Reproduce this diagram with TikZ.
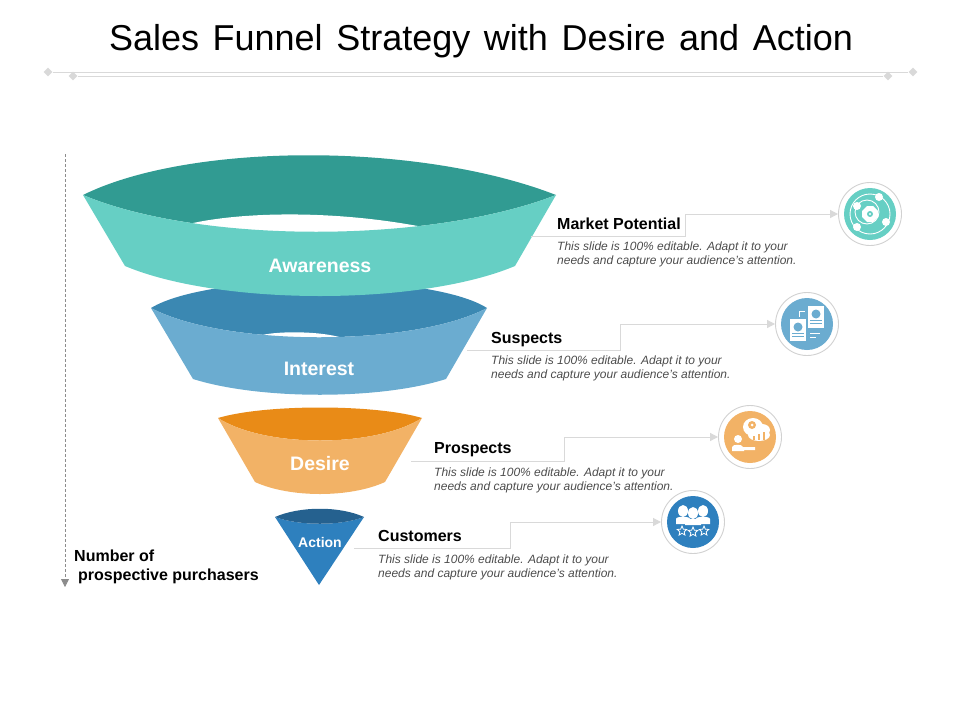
\documentclass[tikz,border=0pt]{standalone}
\usepackage{fontspec}
\setmainfont{Liberation Sans}
\usepackage{tikz}
\usetikzlibrary{arrows.meta,positioning,shapes.geometric}
\definecolor{tealdark}{HTML}{319B92}
\definecolor{teallight}{HTML}{66CFC4}
\definecolor{bluedark}{HTML}{3B88B2}
\definecolor{bluelight}{HTML}{6BACD0}
\definecolor{orangedark}{HTML}{E98B17}
\definecolor{orangelight}{HTML}{F2B266}
\definecolor{navydark}{HTML}{25618F}
\definecolor{navylight}{HTML}{2E80BE}
\definecolor{rulegrey}{HTML}{D9D9D9}
\tikzset{
	stagetext/.style = {text=white, font=\bfseries\fontsize{19.5}{22}\selectfont},
	headtext/.style = {anchor=base west, inner sep=0pt, font=\bfseries\fontsize{16}{18}\selectfont},
	bodytext/.style = {anchor=north west, inner sep=0pt, align=left, text=black!70, font=\itshape\fontsize{12}{14}\selectfont},
	link/.style = {draw=rulegrey, line width=1pt},
	arrowlink/.style = {link, -{Triangle[length=8pt,width=8pt]}},
	iconring/.style = {draw=black!18, circle, fill=white, line width=0.9pt, minimum size=63pt, inner sep=0pt},
	titleend/.style = {draw=none, fill=rulegrey, diamond, minimum size=9pt, inner sep=0pt},
	glyph/.style = {fill=white, draw=none},
	glyphline/.style = {draw=white, line width=0.9pt},
	ratingstar/.style = {star, star points=5, star point ratio=2.2, draw=white, line width=0.8pt, minimum size=10pt, inner sep=0pt},
}
\begin{document}
\begin{tikzpicture}[x=1pt,y=-1pt]
	\useasboundingbox (0,0) rectangle (960,720);
	\node (title) at (481,50) [anchor=base, font=\fontsize{36}{40}\selectfont, inner sep=0pt] {Sales\hspace{3.6pt} Funnel\hspace{3.6pt} Strategy\hspace{3.6pt} with\hspace{3.6pt} Desire\hspace{3.6pt} and\hspace{3.6pt} Action};
	\node (ruleaL) at (48,72) [titleend] {};
	\node (ruleaR) at (913,72) [titleend] {};
	\node (rulebL) at (73,76) [titleend] {};
	\node (rulebR) at (888,76) [titleend] {};
	\path [link] (ruleaL) -- (ruleaR);
	\path [link] (rulebL) -- (rulebR);
	% axis
	\coordinate (axistop) at (65,154);
	\coordinate (axisend) at (65,587);
	\path [draw=black!45, densely dashed, line width=0.8pt, -{Triangle[length=8pt,width=8pt]}] (axistop) -- (axisend);
	\node (axislabel) at (74,567) [anchor=west, inner sep=0pt, align=left, font=\bfseries\fontsize{16}{19}\selectfont] {Number of \\ \hspace{4pt}prospective purchasers};
	% interest
	\path [fill=bluedark] (151,308) .. controls (210,272) and (430,272) .. (487,308) .. controls (413,347) and (225,347) .. cycle;
	\path [fill=white] (262,335) .. controls (280,331) and (320,331) .. (343,338) -- (330,345) -- (270,345) -- cycle;
	\path [fill=bluelight] (151,308) .. controls (225,347) and (413,347) .. (487,308) -- (446,379) .. controls (380,400) and (260,400) .. (193,379) -- cycle;
	% awareness
	\path [fill=tealdark] (83,195) .. controls (190,142) and (420,142) .. (556,195) .. controls (430,244) and (200,244) .. cycle;
	\path [fill=white] (193,223) .. controls (250,211) and (340,211) .. (423,227) -- (380,240) -- (230,240) -- cycle;
	\path [fill=teallight] (83,195) .. controls (200,244) and (430,244) .. (556,195) -- (515,266) .. controls (420,306) and (220,306) .. (125,266) -- cycle;
	% desire
	\path [fill=orangedark] (218,418) .. controls (265,404) and (375,404) .. (422,418) .. controls (375,448) and (265,448) .. cycle;
	\path [fill=orangelight] (218,418) .. controls (265,448) and (375,448) .. (422,418) -- (385,482) .. controls (350,498) and (290,498) .. (255,482) -- cycle;
	% action
	\path [fill=navylight] (275,517) .. controls (300,526) and (340,526) .. (364,517) -- (319,585) -- cycle;
	\path [fill=navydark] (275,517) .. controls (300,506) and (340,506) .. (364,517) .. controls (340,526) and (300,526) .. cycle;
	\node (awareness) at (320,266) [stagetext] {Awareness};
	\node (interest) at (319,369) [stagetext] {Interest};
	\node (desire) at (320,464) [stagetext] {Desire};
	\node (action) at (320,542) [stagetext, font=\bfseries\fontsize{14}{15}\selectfont] {Action};
	% market potential
	\node (marketicon) at (870,214) [iconring] {};
	\node (markethead) at (557,229) [headtext] {Market Potential};
	\node (marketbody) at (557,242) [bodytext] {This slide is 100\% editable. Adapt it to your \\ needs and capture your audience's attention.};
	\coordinate (marketfree) at (531,236);
	\coordinate (marketbend) at (685,236);
	\path [arrowlink] (marketfree) -- (marketbend) |- (marketicon);
	\path [fill=teallight] (870,214) circle (26);
	\begin{scope}[shift={(870,214)}]
		\path [glyphline] (0,0) circle (20);
		\path [glyphline] (-3,-2) circle (12);
		\path [glyph] (-3,-8) -- (3,-8) -- (8,-3) -- (8,3) -- (3,8) -- (-3,8) -- (-8,3) -- (-8,-3) -- cycle;
		\path [fill=teallight] (0,0) circle (3);
		\path [glyph] (0,0) circle (1.2);
		\path [glyph] (9,-17) circle (4);
		\path [glyph] (16,8) circle (4);
		\path [glyph] (-13,13) circle (4);
		\path [glyph] (-13,-8) circle (4);
	\end{scope}
	% suspects
	\node (suspecticon) at (807,324) [iconring] {};
	\node (suspecthead) at (491,343) [headtext] {Suspects};
	\node (suspectbody) at (491,356) [bodytext] {This slide is 100\% editable. Adapt it to your \\ needs and capture your audience's attention.};
	\coordinate (suspectfree) at (467,350);
	\coordinate (suspectbend) at (620,350);
	\path [arrowlink] (suspectfree) -- (suspectbend) |- (suspecticon);
	\path [fill=bluelight] (807,324) circle (26);
	\begin{scope}[shift={(807,324)}]
		\path [glyph] (1,-18) rectangle (17,4);
		\path [glyph] (-17,-5) rectangle (-1,17);
		\path [fill=bluelight] (9,-10) circle (4.5);
		\path [fill=bluelight] (-9,3) circle (4.5);
		\path [fill=bluelight] (3,-4) rectangle (15,-3);
		\path [fill=bluelight] (3,-1) rectangle (15,0);
		\path [fill=bluelight] (-15,9) rectangle (-3,10);
		\path [fill=bluelight] (-15,12) rectangle (-3,13);
		\path [glyphline] (-8,-7) -- (-8,-13) -- (-2,-13);
		\path [glyphline] (3,9) -- (13,9);
		\path [glyphline] (3,13) -- (9,13);
	\end{scope}
	% prospects
	\node (prospecticon) at (750,437) [iconring] {};
	\node (prospecthead) at (434,453) [headtext] {Prospects};
	\node (prospectbody) at (434,468) [bodytext] {This slide is 100\% editable. Adapt it to your \\ needs and capture your audience's attention.};
	\coordinate (prospectfree) at (411,461);
	\coordinate (prospectbend) at (564,461);
	\path [arrowlink] (prospectfree) -- (prospectbend) |- (prospecticon);
	\path [fill=orangelight] (750,437) circle (26);
	\begin{scope}[shift={(750,437)}]
		\path [glyph] (3,-10) ellipse (10 and 9);
		\path [glyph] (12,-7) ellipse (8 and 6);
		\path [glyph] (9,-2) ellipse (11 and 6);
		\path [fill=orangelight] (2,-12) circle (4);
		\path [glyph] (2,-12) circle (1.5);
		\path [fill=orangelight] (3,-1) rectangle (5,3);
		\path [fill=orangelight] (8,-3) rectangle (10,3);
		\path [fill=orangelight] (13,-5) rectangle (15,3);
		\path [glyph] (-12,2) circle (4);
		\path [glyph] (-18,14) -- (-18,10) .. controls (-18,7) and (-7,7) .. (-7,10) -- (5,10) -- (5,13) -- (-6,13) -- (-6,14) -- cycle;
	\end{scope}
	% customers
	\node (customericon) at (693,522) [iconring] {};
	\node (customerhead) at (378,541) [headtext] {Customers};
	\node (customerbody) at (378,555) [bodytext] {This slide is 100\% editable. Adapt it to your \\ needs and capture your audience's attention.};
	\coordinate (customerfree) at (354,548);
	\coordinate (customerbend) at (510,548);
	\path [arrowlink] (customerfree) -- (customerbend) |- (customericon);
	\path [fill=navylight] (693,522) circle (26);
	\begin{scope}[shift={(693,522)}]
		\path [glyph] (-10,-11) ellipse (5 and 6);
		\path [glyph] (10,-11) ellipse (5 and 6);
		\path [glyph] (-17,2) -- (-17,-3) .. controls (-17,-6) and (-3,-6) .. (-3,-3) -- (-3,2) -- cycle;
		\path [glyph] (17,2) -- (17,-3) .. controls (17,-6) and (3,-6) .. (3,-3) -- (3,2) -- cycle;
		\path [glyph] (0,-9) ellipse (5 and 6);
		\path [glyph] (-8,3) -- (-8,-1) .. controls (-8,-4) and (8,-4) .. (8,-1) -- (8,3) -- cycle;
		\node (starleft) at (-11,9) [ratingstar] {};
		\node (starmid) at (0,10) [ratingstar] {};
		\node (starright) at (11,9) [ratingstar] {};
	\end{scope}
\end{tikzpicture}
\end{document}
